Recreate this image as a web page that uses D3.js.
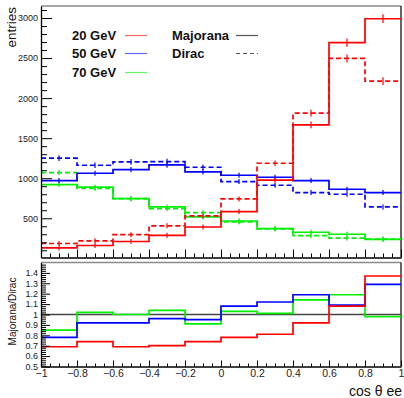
<!DOCTYPE html>
<html>
<head>
<meta charset="utf-8">
<script src="https://cdn.jsdelivr.net/npm/d3@7"></script>
<style>
  body { margin: 0; background: #fff; }
  svg { display: block; }
  text { font-family: "Liberation Sans", Arial, sans-serif; }
</style>
</head>
<body>
<svg id="chart" width="404" height="398"></svg>
<script>
// cos(theta_ee) binning
const binEdges = [-1, -0.8, -0.6, -0.4, -0.2, 0, 0.2, 0.4, 0.6, 0.8, 1];

// entries per bin, Majorana (solid) and Dirac (dashed)
const majorana20 = [130, 160, 210, 287, 391, 583, 975, 1666, 2692, 2991];
const dirac20    = [185, 218, 295, 406, 529, 741, 1187, 1812, 2496, 2212];
const majorana50 = [970, 1062, 1108, 1166, 1079, 1037, 1012, 970, 862, 820];
const dirac50    = [1250, 1162, 1204, 1208, 1137, 958, 912, 820, 800, 641];
const majorana70 = [920, 888, 745, 641, 516, 466, 370, 325, 300, 237];
const dirac70    = [1070, 872, 745, 620, 570, 455, 368, 283, 252, 240];

// Majorana/Dirac ratio per bin
const ratio20 = [0.69, 0.74, 0.69, 0.70, 0.74, 0.78, 0.81, 0.92, 1.08, 1.37];
const ratio50 = [0.78, 0.92, 0.92, 0.96, 0.95, 1.08, 1.12, 1.19, 1.09, 1.29];
const ratio70 = [0.85, 1.02, 1.00, 1.04, 0.91, 1.03, 1.01, 1.14, 1.19, 0.98];

// axis ticks
const entryTicks = [500, 1000, 1500, 2000, 2500, 3000];
const ratioTicks = [0.5, 0.6, 0.7, 0.8, 0.9, 1, 1.1, 1.2, 1.3, 1.4];
const cosTicks   = [-1, -0.8, -0.6, -0.4, -0.2, 0, 0.2, 0.4, 0.6, 0.8, 1];

const massLabels = ["20 GeV", "50 GeV", "70 GeV"];
const colors = ["#ff0000", "#0000ff", "#00ee00"];

const svg = d3.select("#chart");

const x = d3.scaleLinear().domain([-1, 1]).range([41, 401]);
const yTop = d3.scaleLinear().domain([10, 3150]).range([257.5, 6]);
const yRat = d3.scaleLinear().domain([0.5, 1.5]).range([366.5, 262.5]);

const fmtCos = d => (d < 0 ? "\u2212" : "") + String(Math.abs(+d.toFixed(1)));
const fmtRatio = d => String(+d.toFixed(1));
const fmtEntries = d => String(d);

// ---------- frames ----------
function frame(y0, y1) {
  svg.append("line").attr("x1", x(-1)).attr("x2", x(1)).attr("y1", y1).attr("y2", y1)
    .attr("stroke", "#8a8a8a").attr("stroke-width", 1.4);
  svg.append("line").attr("x1", x(1)).attr("x2", x(1)).attr("y1", y1).attr("y2", y0)
    .attr("stroke", "#000").attr("stroke-width", 1.2);
}
frame(257.5, 6);
frame(366.5, 262.5);

// ---------- histogram steps ----------
function stepPoints(vals, scale) {
  const pts = [];
  vals.forEach((v, i) => {
    pts.push([x(binEdges[i]), scale(v)]);
    pts.push([x(binEdges[i + 1]), scale(v)]);
  });
  return pts;
}
const line = d3.line();

function drawHist(g, vals, scale, color, dashed, withErrors) {
  g.append("path")
    .attr("d", line(stepPoints(vals, scale)))
    .attr("fill", "none")
    .attr("stroke", color)
    .attr("stroke-width", 1.7)
    .attr("stroke-dasharray", dashed ? "5,3" : null);
  if (withErrors) {
    g.selectAll(null).data(vals).enter().append("line")
      .attr("x1", (d, i) => x((binEdges[i] + binEdges[i + 1]) / 2))
      .attr("x2", (d, i) => x((binEdges[i] + binEdges[i + 1]) / 2))
      .attr("y1", d => Math.min(scale(d + Math.sqrt(d)), scale(d) - 2.5))
      .attr("y2", d => Math.max(scale(d - Math.sqrt(d)), scale(d) + 2.5))
      .attr("stroke", color)
      .attr("stroke-width", 1.2);
  }
}

const gTop = svg.append("g");
const majSets = [majorana20, majorana50, majorana70];
const dirSets = [dirac20, dirac50, dirac70];
[2, 1, 0].forEach(k => {
  drawHist(gTop, dirSets[k], yTop, colors[k], true, true);
  drawHist(gTop, majSets[k], yTop, colors[k], false, true);
});

// ratio panel
const gRat = svg.append("g");
gRat.append("line")
  .attr("x1", x(-1)).attr("x2", x(1)).attr("y1", yRat(1)).attr("y2", yRat(1))
  .attr("stroke", "#444").attr("stroke-width", 1.4);
const ratios = [ratio20, ratio50, ratio70];
[2, 1, 0].forEach(k => drawHist(gRat, ratios[k], yRat, colors[k], false, false));

// ---------- axes ----------
function styleAxis(g, fontSize) {
  g.select(".domain").attr("stroke", "#000").attr("stroke-width", 1.3);
  g.selectAll(".tick line").attr("stroke", "#000");
  g.selectAll(".tick text").attr("font-size", fontSize).attr("fill", "#222")
    .attr("font-family", "'Liberation Sans', Arial, sans-serif");
}

// top panel y
const ayTop = svg.append("g").attr("transform", `translate(${x(-1)},0)`)
  .call(d3.axisLeft(yTop).tickValues(entryTicks).tickSizeInner(-11).tickSizeOuter(0).tickPadding(3).tickFormat(fmtEntries));
styleAxis(ayTop, 9);
svg.append("g").attr("transform", `translate(${x(-1)},0)`)
  .call(d3.axisLeft(yTop).tickValues(d3.range(100, 3150, 100).filter(v => v % 500 !== 0))
    .tickSizeInner(-6).tickSizeOuter(0).tickFormat(""))
  .call(g => { g.select(".domain").remove(); g.selectAll("line").attr("stroke", "#000"); });

// top panel x (no labels)
const axTop = svg.append("g").attr("transform", `translate(0,${yTop(10)})`)
  .call(d3.axisBottom(x).tickValues(cosTicks).tickSizeInner(-8).tickSizeOuter(0).tickFormat(""));
styleAxis(axTop, 10);
svg.append("g").attr("transform", `translate(0,${yTop(10)})`)
  .call(d3.axisBottom(x).tickValues(d3.range(-0.95, 1, 0.05).filter(v => Math.abs(v * 5 - Math.round(v * 5)) > 0.01))
    .tickSizeInner(-4).tickSizeOuter(0).tickFormat(""))
  .call(g => { g.select(".domain").remove(); g.selectAll("line").attr("stroke", "#000"); });

// ratio panel y
const ayRat = svg.append("g").attr("transform", `translate(${x(-1)},0)`)
  .call(d3.axisLeft(yRat).tickValues(ratioTicks).tickSizeInner(-9).tickSizeOuter(0).tickPadding(3).tickFormat(fmtRatio));
styleAxis(ayRat, 9);
svg.append("g").attr("transform", `translate(${x(-1)},0)`)
  .call(d3.axisLeft(yRat).tickValues(d3.range(0.52, 1.5, 0.02).filter(v => Math.abs(v * 10 - Math.round(v * 10)) > 0.01))
    .tickSizeInner(-5).tickSizeOuter(0).tickFormat(""))
  .call(g => { g.select(".domain").remove(); g.selectAll("line").attr("stroke", "#000"); });

// ratio panel x
const axRat = svg.append("g").attr("transform", `translate(0,${yRat(0.5)})`)
  .call(d3.axisBottom(x).tickValues(cosTicks).tickSizeInner(-6).tickSizeOuter(0).tickPadding(3).tickFormat(fmtCos));
styleAxis(axRat, 10.5);
svg.append("g").attr("transform", `translate(0,${yRat(0.5)})`)
  .call(d3.axisBottom(x).tickValues(d3.range(-0.95, 1, 0.05).filter(v => Math.abs(v * 5 - Math.round(v * 5)) > 0.01))
    .tickSizeInner(-3).tickSizeOuter(0).tickFormat(""))
  .call(g => { g.select(".domain").remove(); g.selectAll("line").attr("stroke", "#000"); });

// ---------- titles ----------
svg.append("text").attr("transform", "translate(15.5,7) rotate(-90)")
  .attr("text-anchor", "end").attr("font-size", 13.5).attr("fill", "#111").text("entries");
svg.append("text").attr("transform", "translate(15.5,311.5) rotate(-90)")
  .attr("text-anchor", "middle").attr("font-size", 10).attr("fill", "#111").text("Majorana/Dirac");
svg.append("text").attr("x", 402).attr("y", 396)
  .attr("text-anchor", "end").attr("font-size", 14).attr("fill", "#111").text("cos \u03b8 ee");

// ---------- legend ----------
const legY = [35.5, 53.5, 72.5];
const leg = svg.append("g");
massLabels.forEach((lab, k) => {
  leg.append("text").attr("x", 72).attr("y", legY[k] + 4.6)
    .attr("font-size", 13).attr("font-weight", "bold").attr("fill", "#111").text(lab);
  leg.append("line").attr("x1", 125).attr("x2", 147).attr("y1", legY[k]).attr("y2", legY[k])
    .attr("stroke", colors[k]).attr("stroke-width", 1.2).attr("opacity", 0.6);
});
const typeLabels = ["Majorana", "Dirac"];
typeLabels.forEach((lab, k) => {
  leg.append("text").attr("x", 172).attr("y", legY[k] + 4.6)
    .attr("font-size", 13).attr("font-weight", "bold").attr("fill", "#111").text(lab);
  leg.append("line").attr("x1", 236).attr("x2", 258).attr("y1", legY[k]).attr("y2", legY[k])
    .attr("stroke", "#555").attr("stroke-width", 1.2)
    .attr("stroke-dasharray", k === 1 ? "4,3" : null);
});
</script>
</body>
</html>
